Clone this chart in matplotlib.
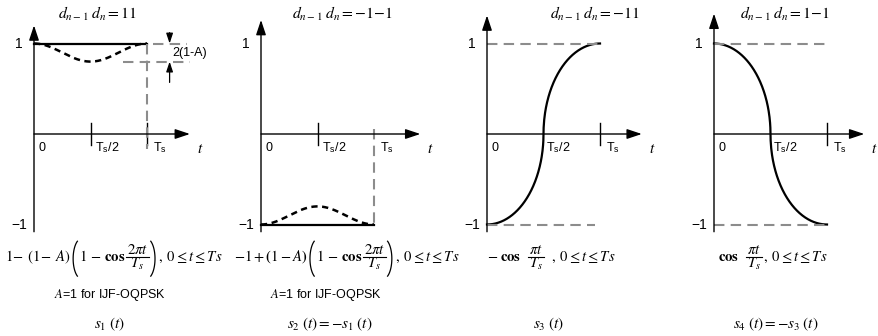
import numpy as np
import matplotlib
matplotlib.use("Agg")
import matplotlib.pyplot as plt
from matplotlib.lines import Line2D

plt.rcParams['mathtext.fontset'] = 'stix'
plt.rcParams['font.family'] = ['Liberation Sans', 'DejaVu Sans']

# ---------------- data ----------------
A = 0.9                      # roll-off of the dashed (general) shape
A_ijf = 1.0                  # IJF-OQPSK case (solid)
titles = [r"$d_{n-1}\;d_n = 11$", r"$d_{n-1}\;d_n = -1{-}1$",
          r"$d_{n-1}\;d_n = -11$", r"$d_{n-1}\;d_n = 1{-}1$"]
# each formula: plain pieces, ('frac', num, den), '(' / ')' for tall brackets, numbers = gap in px
formulas = [
    [r"$1\!-\;(1\!-\;A)$", "(", r"$1\,-\,\mathbf{cos}$", ("frac", r"$2\pi t$", r"$T_s$"), ")",
     r"$,\;0\leq t\leq Ts$"],
    [r"$-1+\mathbf{(}1-A\mathbf{)}$", "(", r"$1\,-\,\mathbf{cos}$", ("frac", r"$2\pi t$", r"$T_s$"), ")",
     r"$,\;0\leq t\leq Ts$"],
    [r"$-\;\mathbf{cos}$", 7, ("frac", r"$\pi t$", r"$T_s$"), 6, r"$,\;0\leq t\leq Ts$"],
    [r"$\mathbf{cos}$", 7, ("frac", r"$\pi t$", r"$T_s$"), r"$,\;0\leq t\leq Ts$"],
]
formula_mid = [114, 347, 551, 773]
notes = ["$\\it{A}$=1 for IJF-OQPSK", "$\\it{A}$=1 for IJF-OQPSK", "", ""]
signal_names = [r"$s_1\;(t)$", r"$s_2\;(t) = -s_1\;(t)$",
                r"$s_3\;(t)$", r"$s_4\;(t) = -s_3\;(t)$"]
origin_px = [34, 261, 487, 714]      # where each small t-axis starts
title_x = [98, 342, 595, 785]
note_x = [110, 326]
name_x = [109, 330, 548, 776]
y_tops = [1.2, 1.26, 1.31, 1.33]
arrow_ends = [1.38, 1.41, 1.37, 1.33]

W, H = 879, 336
TS_PX, UNIT_PX, ZERO_PX = 113, 90.5, 134
TMIN, TMAX, YMIN, YMAX = -0.35, 1.6, -1.45, 1.45
FORMULA_FS = 10.6

fig = plt.figure(figsize=(W / 100, H / 100), dpi=100)
renderer = fig.canvas.get_renderer()
t = np.linspace(0, 1, 400)
gray = '#8c8c8c'


def make_axes(ox):
    left = ox + TMIN * TS_PX
    width = (TMAX - TMIN) * TS_PX
    bottom = ZERO_PX - YMIN * UNIT_PX
    height = (YMAX - YMIN) * UNIT_PX
    ax = fig.add_axes([left / W, 1 - bottom / H, width / W, height / H])
    ax.set_xlim(TMIN, TMAX)
    ax.set_ylim(YMIN, YMAX)
    ax.axis('off')
    return ax


def draw_frame(ax, ytop, xend, ticks, tlabel_pos):
    head = dict(arrowstyle='-|>,head_length=0.9,head_width=0.3',
                color='black', lw=1.0, shrinkA=0, shrinkB=0)
    ax.annotate('', xy=(xend, 0), xytext=(0, 0), arrowprops=head)
    ax.annotate('', xy=(0, ytop), xytext=(0, -1.08), arrowprops=head)
    for tk in ticks:
        ax.plot([tk, tk], [0.12, -0.12], color='black', lw=1.0)
    ax.text(-0.1, 1, '1', ha='right', va='center', fontsize=10)
    ax.text(-0.06, -1, '\u22121', ha='right', va='center', fontsize=10)
    ax.text(0.04, -0.15, '0', ha='left', va='center', fontsize=9)
    ax.text(tlabel_pos[0], -0.15, r'T$_\mathregular{s}$/2', ha='left', va='center', fontsize=9)
    ax.text(tlabel_pos[1], -0.15, r'T$_\mathregular{s}$', ha='left', va='center', fontsize=9)
    ax.text(xend + 0.06, -0.17, r'$t$', ha='left', va='center', fontsize=11)


def s_curve(tt):
    # two quarter ellipses: flat at the ends, vertical at Ts/2
    u = np.clip(2 * tt, 0, 2)
    return np.where(u < 1, -np.sqrt(np.clip(1 - u ** 2, 0, 1)),
                    np.sqrt(np.clip(1 - (2 - u) ** 2, 0, 1)))


def px_text(made, x, y, s, fs, ha='left'):
    txt = fig.text(x / W, 1 - y / H, s, fontsize=fs, ha=ha, va='baseline')
    made.append(txt)
    return txt.get_window_extent(renderer).width


def px_line(made, xs, ys, lw):
    ln = Line2D(np.asarray(xs) / W, 1 - np.asarray(ys) / H,
                transform=fig.transFigure, color='black', lw=lw)
    fig.add_artist(ln)
    made.append(ln)


def write_formula(x, base, pieces, fs):
    made = []
    bar_y = base - 0.36 * fs
    for p in pieces:
        if isinstance(p, (int, float)):
            x += p
        elif isinstance(p, tuple):
            # stacked fraction with a rule between
            tmp = []
            nw = px_text(tmp, 0, 0, p[1], fs)
            dw = px_text(tmp, 0, 0, p[2], fs)
            for a in tmp:
                a.remove()
            fw = max(nw, dw) + 2
            px_text(made, x + fw / 2, bar_y - 0.32 * fs, p[1], fs, ha='center')
            px_text(made, x + fw / 2, bar_y + 1.02 * fs, p[2], fs, ha='center')
            px_line(made, [x, x + fw], [bar_y, bar_y], 0.8)
            x += fw + 1
        elif p in ('(', ')'):
            a, b = 0.8 * fs, 1.9 * fs
            th = np.radians(np.linspace(120, 240, 40))
            if p == '(':
                cx = x + a + 2
                xs = cx + a * np.cos(th)
            else:
                cx = x - a + 5
                xs = cx - a * np.cos(th)
            px_line(made, xs, bar_y + 1.5 + b * np.sin(th), 0.9)
            x += 0.5 * a + 4
        else:
            x += px_text(made, x, base, p, fs)
    return x, made


def centred_formula(mid, base, pieces, fs):
    end, made = write_formula(0, base, pieces, fs)
    for a in made:
        a.remove()
    write_formula(mid - end / 2, base, pieces, fs)


dash = dict(color=gray, lw=1.5, dashes=(5, 3))

# s1
ax = make_axes(origin_px[0])
draw_frame(ax, y_tops[0], arrow_ends[0], [0.5, 1.0], (0.54, 1.05))
ax.plot(t, 1 - (1 - A_ijf) * (1 - np.cos(2 * np.pi * t)), color='black', lw=1.6)
ax.plot(t, 1 - (1 - A) * (1 - np.cos(2 * np.pi * t)), color='black', lw=1.8, dashes=(2.5, 1.8))
ax.plot([1, 1], [1, -0.17], **dash)
ax.plot([1.05, 1.35], [1, 1], **dash)
ax.plot([0.79, 1.38], [1 - 2 * (1 - A), 1 - 2 * (1 - A)], **dash)
small = dict(arrowstyle='-|>,head_length=0.6,head_width=0.2', color='black', lw=0.9,
             shrinkA=0, shrinkB=0)
ax.annotate('', xy=(1.2, 1.0), xytext=(1.2, 1.12), arrowprops=small)
ax.annotate('', xy=(1.2, 1 - 2 * (1 - A)), xytext=(1.2, 0.57), arrowprops=small)
ax.text(1.22, 0.9, '2(1-A)', ha='left', va='center', fontsize=9)

# s2
ax = make_axes(origin_px[1])
draw_frame(ax, y_tops[1], arrow_ends[1], [0.5], (0.54, 1.05))
ax.plot(t, -1 + (1 - A_ijf) * (1 - np.cos(2 * np.pi * t)), color='black', lw=1.6)
ax.plot(t, -1 + (1 - A) * (1 - np.cos(2 * np.pi * t)), color='black', lw=1.8, dashes=(2.5, 1.8))
ax.plot([1, 1], [0.05, -1], **dash)

# s3
ax = make_axes(origin_px[2])
draw_frame(ax, y_tops[2], arrow_ends[2], [1.0], (0.52, 1.05))
ax.plot(t, s_curve(t), color='black', lw=1.6)
ax.plot([0, 1.0], [1, 1], **dash)
ax.plot([0, 0.96], [-1, -1], **dash)

# s4 = -s3
ax = make_axes(origin_px[3])
draw_frame(ax, y_tops[3], arrow_ends[3], [1.0], (0.52, 1.05))
ax.plot(t, -s_curve(t), color='black', lw=1.6)
ax.plot([0, 1.02], [1, 1], **dash)
ax.plot([0, 1.0], [-1, -1], **dash)

# text rows under and above the panels
for i in range(4):
    fig.text(title_x[i] / W, 1 - 14 / H, titles[i], ha='center', va='center', fontsize=11.3)
    centred_formula(formula_mid[i], 261, formulas[i], FORMULA_FS)
    fig.text(name_x[i] / W, 1 - 324 / H, signal_names[i], ha='center', va='center', fontsize=11)
for i, s in enumerate(n for n in notes if n):
    fig.text(note_x[i] / W, 1 - 295 / H, s, ha='center', va='center', fontsize=9)

fig.savefig('out.png', dpi=100)
